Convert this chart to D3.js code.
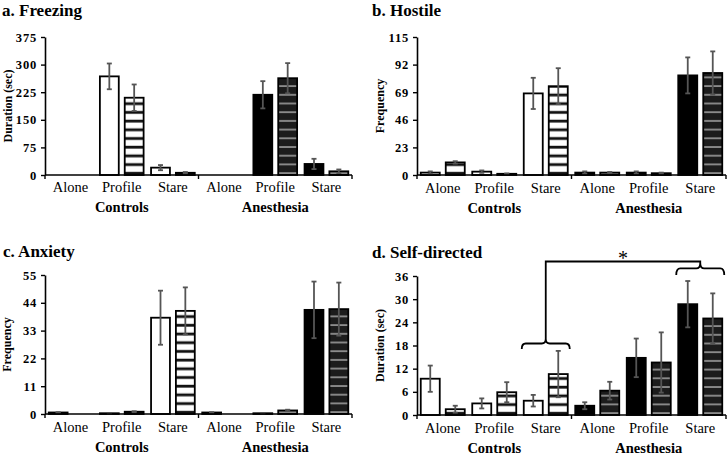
<!DOCTYPE html>
<html><head><meta charset="utf-8">
<script src="https://cdn.jsdelivr.net/npm/d3@7"></script>
<style>
html,body{margin:0;padding:0;background:#fff;}
svg{display:block;}
</style></head>
<body>
<svg id="chart" width="728" height="456" font-family="'Liberation Serif', 'DejaVu Serif', serif"></svg>
<script>
// ---- data ----
const categories = ["Alone", "Profile", "Stare", "Alone", "Profile", "Stare"];
const groups = ["Controls", "Anesthesia"];

const freezingPlain      = [0, 268, 20, 0, 218, 30];
const freezingPlainErr   = [0, 35, 7, 0, 37, 14];
const freezingStriped    = [0, 210, 6, 0, 263, 10];
const freezingStripedErr = [0, 36, 2, 0, 41, 5];

const hostilePlain       = [2, 2.8, 68, 2, 2, 83];
const hostilePlainErr    = [1, 1, 13, 1, 1, 15];
const hostileStriped     = [10.5, 1, 74, 2, 1.5, 85];
const hostileStripedErr  = [1, 0.3, 15, 0.5, 0.5, 18];

const anxietyPlain       = [0.6, 0.3, 38.1, 0.6, 0.3, 41.2];
const anxietyPlainErr    = [0.1, 0.1, 10.7, 0.1, 0.1, 11.2];
const anxietyStriped     = [0, 0.9, 40.8, 0, 1.4, 41.5];
const anxietyStripedErr  = [0, 0.2, 9.3, 0, 0.3, 10.5];

const selfPlain          = [9.4, 3.0, 3.7, 2.4, 14.8, 28.7];
const selfPlainErr       = [3.4, 1.3, 1.5, 0.9, 5.0, 6.0];
const selfStriped        = [1.5, 5.9, 10.6, 6.3, 13.6, 25.0];
const selfStripedErr     = [0.9, 2.6, 6.0, 2.3, 7.8, 6.5];

const freezingTicks = [0, 75, 150, 225, 300, 375];
const hostileTicks  = [0, 23, 46, 69, 92, 115];
const anxietyTicks  = [0, 11, 22, 33, 44, 55];
const selfTicks     = [0, 6, 12, 18, 24, 30, 36];

const titles = ["a. Freezing", "b. Hostile", "c. Anxiety", "d. Self-directed"];
const yLabels = ["Duration (sec)", "Frequency", "Frequency", "Duration (sec)"];

const FONT = "'Liberation Serif', 'DejaVu Serif', serif";

// ---- layout ----
const panels = [
  {title: titles[0], ylab: yLabels[0], plain: freezingPlain, plainErr: freezingPlainErr, striped: freezingStriped, stripedErr: freezingStripedErr, ticks: freezingTicks,
   titleX: 2, x0: 45, x1: 352, top: 37, bottom: 175, titleY: 15.5, ylabX: 8, catY: 192, grpY: 212},
  {title: titles[1], ylab: yLabels[1], plain: hostilePlain, plainErr: hostilePlainErr, striped: hostileStriped, stripedErr: hostileStripedErr, ticks: hostileTicks,
   titleX: 372, x0: 417, x1: 726, top: 37, bottom: 175, titleY: 15.5, ylabX: 380, catY: 193, grpY: 213},
  {title: titles[2], ylab: yLabels[2], plain: anxietyPlain, plainErr: anxietyPlainErr, striped: anxietyStriped, stripedErr: anxietyStripedErr, ticks: anxietyTicks,
   titleX: 3, x0: 45, x1: 352, top: 275, bottom: 414, titleY: 257, ylabX: 7, catY: 432, grpY: 452},
  {title: titles[3], ylab: yLabels[3], plain: selfPlain, plainErr: selfPlainErr, striped: selfStriped, stripedErr: selfStripedErr, ticks: selfTicks,
   titleX: 372, x0: 417, x1: 726, top: 276, bottom: 415, titleY: 258, ylabX: 380, catY: 433, grpY: 453}
];

const svg = d3.select("#chart");
const defs = svg.append("defs");

panels.forEach((p, pi) => {
  const pl = defs.append("pattern").attr("id", "light" + pi).attr("patternUnits", "userSpaceOnUse")
    .attr("x", 0).attr("y", p.bottom).attr("width", 8).attr("height", 8.7);
  pl.append("rect").attr("width", 8).attr("height", 8.7).attr("fill", "#fff");
  pl.append("rect").attr("y", 5.6).attr("width", 8).attr("height", 2.8).attr("fill", "#111");
  const pd = defs.append("pattern").attr("id", "dark" + pi).attr("patternUnits", "userSpaceOnUse")
    .attr("x", 0).attr("y", p.bottom).attr("width", 8).attr("height", 8.7);
  pd.append("rect").attr("width", 8).attr("height", 8.7).attr("fill", "#1c1c1c");
  pd.append("rect").attr("y", 6.2).attr("width", 8).attr("height", 1.2).attr("fill", "#c8c8c8");

  const g = svg.append("g").attr("font-family", FONT);
  const x = d3.scaleBand().domain(d3.range(categories.length)).range([p.x0, p.x1]).padding(0);
  const xs = d3.scaleBand().domain([0, 1]).range([0, x.bandwidth()]).paddingInner(0.24).paddingOuter(0.15);
  const ymax = p.ticks[p.ticks.length - 1];
  const y = d3.scaleLinear().domain([0, ymax]).range([p.bottom, p.top]);

  g.append("text").attr("x", p.titleX).attr("y", p.titleY).attr("font-size", 17).attr("font-weight", "bold").text(p.title);

  const yAxis = d3.axisLeft(y).tickValues(p.ticks).tickSize(4).tickPadding(4).tickSizeOuter(0);
  const ya = g.append("g").attr("transform", `translate(${p.x0},0)`).call(yAxis);
  ya.attr("font-family", FONT);
  ya.select(".domain").attr("stroke", "#000").attr("stroke-width", 1.6);
  ya.selectAll(".tick line").attr("stroke", "#000").attr("stroke-width", 1.4);
  ya.selectAll(".tick text").attr("fill", "#000").attr("font-size", 12.5).attr("font-weight", "bold").attr("letter-spacing", 0.8);

  g.append("text").attr("transform", `translate(${p.ylabX},${(p.top + p.bottom) / 2}) rotate(-90)`)
    .attr("text-anchor", "middle").attr("dy", "0.35em").attr("font-size", 12).attr("font-weight", "bold").text(p.ylab);

  const series = [
    {vals: p.plain, errs: p.plainErr, k: 0},
    {vals: p.striped, errs: p.stripedErr, k: 1}
  ];
  series.forEach(s => {
    s.vals.forEach((v, i) => {
      if (v <= 0) return;
      const bx = x(i) + xs(s.k);
      const fill = i < 3 ? (s.k === 0 ? "#fff" : `url(#light${pi})`) : (s.k === 0 ? "#000" : `url(#dark${pi})`);
      g.append("rect").attr("x", bx).attr("y", y(v)).attr("width", xs.bandwidth())
        .attr("height", p.bottom - y(v)).attr("fill", fill).attr("stroke", "#000").attr("stroke-width", 1.8);
    });
  });
  series.forEach(s => {
    s.vals.forEach((v, i) => {
      const e = s.errs[i];
      if (v <= 0 || e <= 0) return;
      const cx = x(i) + xs(s.k) + xs.bandwidth() / 2;
      const eg = g.append("g").attr("stroke", "#555").attr("stroke-width", 1.8);
      eg.append("line").attr("x1", cx).attr("x2", cx).attr("y1", y(v + e)).attr("y2", y(Math.max(0, v - e)));
      eg.append("line").attr("x1", cx - 2.5).attr("x2", cx + 2.5).attr("y1", y(v + e)).attr("y2", y(v + e));
      eg.append("line").attr("x1", cx - 2.5).attr("x2", cx + 2.5).attr("y1", y(Math.max(0, v - e))).attr("y2", y(Math.max(0, v - e)));
    });
  });

  g.append("line").attr("x1", p.x0).attr("x2", p.x1).attr("y1", p.bottom).attr("y2", p.bottom).attr("stroke", "#000").attr("stroke-width", 1.6);
  [0, 3, 6].forEach(b => {
    const bx = b < 6 ? x(b) : p.x1;
    g.append("line").attr("x1", bx).attr("x2", bx).attr("y1", p.bottom).attr("y2", p.bottom + 4).attr("stroke", "#000").attr("stroke-width", 1.4);
  });
  categories.forEach((c, i) => {
    g.append("text").attr("x", x(i) + x.bandwidth() / 2).attr("y", p.catY).attr("text-anchor", "middle").attr("font-size", 14.5).text(c);
  });
  groups.forEach((gr, j) => {
    const cx = (x(j * 3) + x(j * 3 + 2) + x.bandwidth()) / 2;
    g.append("text").attr("x", cx).attr("y", p.grpY).attr("text-anchor", "middle").attr("font-size", 14.5).attr("font-weight", "bold").text(gr);
  });

  p.x = x; p.xs = xs; p.y = y; p.g = g;
});

(function () {
  const p = panels[3];
  const brace = (xa, xb, yTip, yEnd) => {
    const xm = (xa + xb) / 2, ymid = yTip + (yEnd - yTip) * 0.45, r = 4;
    return `M${xa},${yEnd} Q${xa},${ymid} ${xa + r},${ymid} L${xm - r},${ymid} Q${xm},${ymid} ${xm},${yTip}` +
           ` Q${xm},${ymid} ${xm + r},${ymid} L${xb - r},${ymid} Q${xb},${ymid} ${xb},${yEnd}`;
  };
  const lx0 = p.x(2) + p.xs(0) - 2, lx1 = p.x(2) + p.xs(1) + p.xs.bandwidth() + 2;
  const rx0 = p.x(5) + p.xs(0) - 2, rx1 = p.x(5) + p.xs(1) + p.xs.bandwidth() + 2;
  const lm = (lx0 + lx1) / 2, rm = (rx0 + rx1) / 2;
  const topY = 261.5;
  const g = p.g.append("g").attr("fill", "none").attr("stroke", "#000").attr("stroke-width", 1.8);
  g.append("path").attr("d", brace(lx0, lx1, 339, 349));
  g.append("path").attr("d", brace(rx0, rx1, 263, 275));
  g.append("path").attr("d", `M${lm},339 L${lm},${topY} L${rm},${topY} L${rm},263`);
  p.g.append("text").attr("x", (lm + rm) / 2).attr("y", 265).attr("text-anchor", "middle").attr("font-size", 20).text("*");
})();
</script>
</body></html>
